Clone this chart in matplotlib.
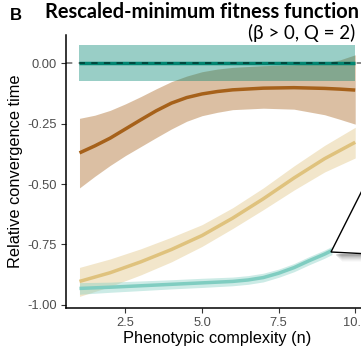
import matplotlib
matplotlib.use("Agg")
import matplotlib.pyplot as plt
from matplotlib.patches import Polygon

# ----------------- Data -----------------
x_ref = [1, 10]
ref_mean = [0.0, 0.0]
ref_lo = [-0.075, -0.075]
ref_hi = [0.077, 0.077]

x_brown = [1, 1.5, 2, 2.5, 3, 3.5, 4, 4.5, 5, 5.5, 6, 7, 8, 9, 9.5, 10]
brown_mean = [-0.371, -0.342, -0.310, -0.272, -0.234, -0.197, -0.165, -0.142,
              -0.127, -0.117, -0.110, -0.103, -0.101, -0.104, -0.107, -0.111]
brown_hi = [-0.228, -0.215, -0.195, -0.168, -0.138, -0.106, -0.076, -0.053,
            -0.035, -0.024, -0.017, -0.010, -0.006, 0.002, 0.014, 0.035]
brown_lo = [-0.516, -0.468, -0.423, -0.382, -0.345, -0.308, -0.272, -0.240,
            -0.217, -0.203, -0.192, -0.186, -0.190, -0.213, -0.232, -0.252]

x_tan = [1, 2, 3, 4, 5, 6, 7, 8, 9, 10]
tan_mean = [-0.903, -0.867, -0.822, -0.771, -0.713, -0.641, -0.561, -0.475, -0.395, -0.327]
tan_hi = [-0.845, -0.810, -0.768, -0.720, -0.668, -0.598, -0.516, -0.425, -0.340, -0.265]
tan_lo = [-0.965, -0.924, -0.876, -0.822, -0.758, -0.684, -0.606, -0.525, -0.450, -0.392]

x_teal = [1, 2, 3, 4, 5, 6, 6.5, 7, 7.5, 8, 8.5, 9, 9.24]
teal_mean = [-0.932, -0.927, -0.921, -0.915, -0.909, -0.903, -0.897, -0.887,
             -0.869, -0.846, -0.817, -0.790, -0.775]
teal_hi = [-0.908, -0.906, -0.901, -0.896, -0.890, -0.885, -0.879, -0.869,
           -0.852, -0.829, -0.800, -0.773, -0.758]
teal_lo = [-0.956, -0.948, -0.941, -0.934, -0.928, -0.921, -0.915, -0.905,
           -0.886, -0.863, -0.834, -0.807, -0.792]

xticks = [2.5, 5.0, 7.5, 10.0]
yticks = [0.0, -0.25, -0.5, -0.75, -1.0]

# ----------------- Figure -----------------
W, H = 361, 356
fig = plt.figure(figsize=(W / 100, H / 100), dpi=100)
ax = fig.add_axes([65.7 / W, (H - 308) / H, (369 - 65.7) / W, (308 - 35) / H])

def smooth(x, mean, lo, hi, color):
    ax.fill_between(x, lo, hi, color=color, alpha=0.4, lw=0)
    ax.plot(x, mean, color=color, lw=2.5, solid_capstyle="butt")

smooth(x_tan, tan_mean, tan_lo, tan_hi, "#DFC27D")
smooth(x_teal, teal_mean, teal_lo, teal_hi, "#80CDC1")
smooth(x_brown, brown_mean, brown_lo, brown_hi, "#A6611A")
smooth(x_ref, ref_mean, ref_lo, ref_hi, "#018571")
ax.axhline(0, color="black", alpha=0.5, lw=1.3, dashes=(3.5, 3.5))

ax.set_xlim(0.55, 10.45)
ax.set_ylim(-1.013, 0.117)
ax.set_xticks(xticks)
ax.set_xticklabels(["2.5", "5.0", "7.5", "10.0"])
ax.set_yticks(yticks)
ax.set_yticklabels(["0.00", "-0.25", "-0.50", "-0.75", "-1.00"])
for s in ["top", "right"]:
    ax.spines[s].set_visible(False)
for s in ["left", "bottom"]:
    ax.spines[s].set_linewidth(1.1)
ax.tick_params(length=3.8, width=0.8, color="#333333", labelcolor="#4D4D4D",
               labelsize=9.3, pad=2.5)
for lab in ax.get_xticklabels() + ax.get_yticklabels():
    lab.set_family("Liberation Sans")
ax.set_xlabel("Phenotypic complexity (n)", fontsize=11.8, family="Liberation Sans", labelpad=1.5)
ax.set_ylabel("Relative convergence time", fontsize=11.8, family="Liberation Sans", labelpad=3)

# ----------------- Titles -----------------
fig.text(10 / W, 1 - 15 / H, "B", fontsize=12, weight="bold", family="Liberation Sans",
         va="center", ha="left")
fig.text(45 / W, 1 - 12.5 / H, "Rescaled-minimum fitness function", fontsize=14.4,
         weight="bold", family="Lato", va="center", ha="left")
fig.text(355 / W, 1 - 33 / H, "(\u03b2 > 0, Q = 2)", fontsize=13.5, family="Lato",
         va="center", ha="right")

# ----------------- Callout box (cut off at right edge) -----------------
def fpx(px, py):
    return (px / W, 1 - py / H)

for i, a in enumerate([0.10, 0.08, 0.06, 0.05, 0.04, 0.03, 0.02]):
    shadow = Polygon([fpx(336 + i, 254), fpx(380, 254), fpx(380, 256 + i), fpx(336 + i, 256 + i)],
                     closed=True, facecolor="black", alpha=a, lw=0, transform=fig.transFigure)
    fig.add_artist(shadow)
box = Polygon([fpx(331, 252), fpx(380, 155), fpx(380, 254.5)], closed=True,
              facecolor="white", edgecolor="black", lw=1.0, transform=fig.transFigure)
fig.add_artist(box)

fig.savefig("out.png", dpi=100)
